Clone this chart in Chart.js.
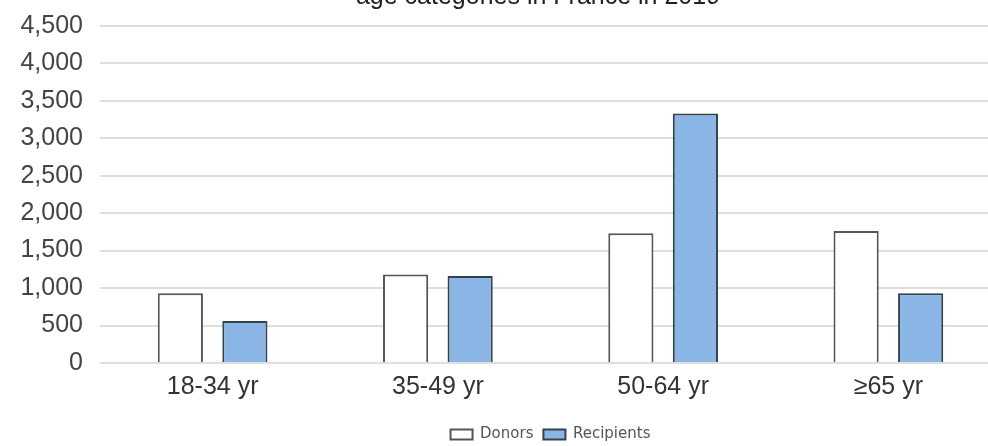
<!DOCTYPE html>
<html>
<head>
<meta charset="utf-8">
<script src="https://cdn.jsdelivr.net/npm/chart.js@4"></script>
<style>
  html, body { margin: 0; padding: 0; background: #fff; overflow: hidden; }
  #wrap { width: 988px; height: 446px; overflow: hidden; }
</style>
</head>
<body>
<div id="wrap"><canvas id="chart" width="1005" height="446"></canvas></div>
<script>
// data
const categories = ['18-34 yr', '35-49 yr', '50-64 yr', '\u226565 yr'];
const donors = [930, 1180, 1730, 1760];
const recipients = [560, 1160, 3330, 930];
const yTicks = [0, 500, 1000, 1500, 2000, 2500, 3000, 3500, 4000, 4500];
const titleText = 'age categories in France in 2019';

// title sits half off the top edge in the reference, so draw it by hand
const clippedTitle = {
    id: 'clippedTitle',
    afterDraw(chart) {
        const ctx = chart.ctx;
        ctx.save();
        ctx.font = '25px "Liberation Sans", Arial, sans-serif';
        ctx.fillStyle = '#222';
        ctx.textAlign = 'center';
        ctx.textBaseline = 'alphabetic';
        ctx.fillText(titleText, 538, 4);
        ctx.restore();
    }
};

const ctx = document.getElementById('chart').getContext('2d');
new Chart(ctx, {
    type: 'bar',
    data: {
        labels: categories,
        datasets: [
            {
                label: 'Donors',
                data: donors,
                backgroundColor: '#ffffff',
                borderColor: '#555555',
                borderWidth: 2
            },
            {
                label: 'Recipients',
                data: recipients,
                backgroundColor: '#8ab6e6',
                borderColor: '#35414d',
                borderWidth: 2
            }
        ]
    },
    options: {
        responsive: false,
        animation: false,
        devicePixelRatio: 1,
        categoryPercentage: 0.573,
        barPercentage: 0.7,
        layout: { padding: { top: 21, right: 4, bottom: -6, left: 0 } },
        plugins: {
            title: { display: false },
            tooltip: { enabled: false },
            legend: {
                position: 'bottom',
                fullSize: false,
                labels: {
                    boxWidth: 22,
                    boxHeight: 10,
                    padding: 10,
                    color: '#555',
                    font: { family: '"DejaVu Sans", sans-serif', size: 15 }
                }
            }
        },
        scales: {
            x: {
                grid: { display: false },
                border: { display: false },
                ticks: {
                    color: '#333',
                    padding: 1,
                    font: { family: '"Liberation Sans", Arial, sans-serif', size: 25 }
                },
                afterFit(scale) { scale.height = 54; }
            },
            y: {
                min: 0,
                max: 4500,
                border: { display: false },
                grid: { color: '#dedede', lineWidth: 2, drawTicks: false },
                afterBuildTicks(scale) {
                    scale.ticks = yTicks.map(v => ({ value: v }));
                },
                ticks: {
                    color: '#444',
                    padding: 17,
                    font: { family: '"Liberation Sans", Arial, sans-serif', size: 25, lineHeight: 0.7 },
                    callback: v => v.toLocaleString('en-US')
                },
                afterFit(scale) { scale.width = 100; }
            }
        }
    },
    plugins: [clippedTitle]
});
</script>
</body>
</html>
